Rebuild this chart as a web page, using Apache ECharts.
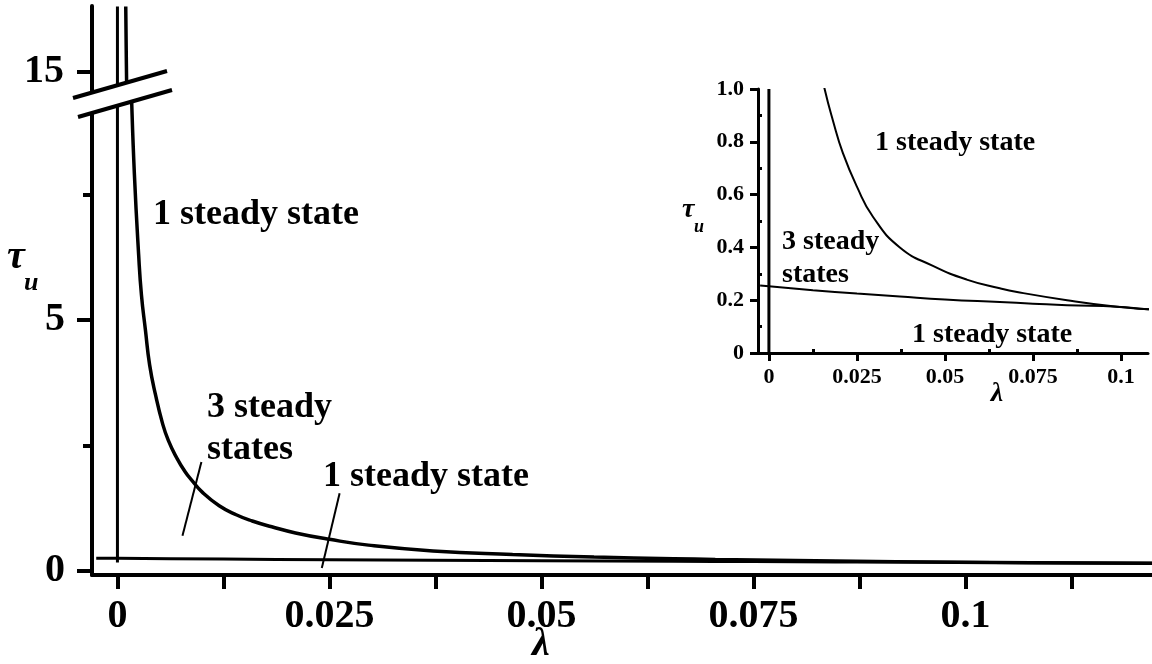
<!DOCTYPE html>
<html>
<head>
<meta charset="utf-8">
<script src="https://cdn.jsdelivr.net/npm/echarts@6/dist/echarts.min.js"></script>
<style>
  html, body { margin: 0; padding: 0; background: #fff; overflow: hidden; }
  #chart { width: 1152px; height: 664px; }
</style>
</head>
<body>
<div id="chart"></div>
<script>
// Boundary between regions with 1 and 3 steady states, tau_u versus lambda
const LAMBDA_UPPER = [0.00098, 0.00103, 0.00108, 0.00115, 0.0013, 0.0015, 0.00165, 0.002, 0.0025, 0.00283,
  0.0033, 0.0038, 0.0045, 0.0053, 0.006, 0.007, 0.008, 0.0088, 0.010, 0.012, 0.014, 0.0159, 0.0182,
  0.021, 0.025, 0.0296, 0.0372, 0.0466, 0.0562, 0.0656, 0.0705, 0.0847, 0.0989, 0.1077, 0.122];
const TAU_UPPER = [16.3, 15.5, 14.8, 13.8, 12.2, 10.5, 9.5, 7.9, 6.3, 5.5,
  4.8, 4.1, 3.5, 2.95, 2.6, 2.25, 1.97, 1.8, 1.57, 1.3, 1.12, 0.996, 0.88,
  0.758, 0.63, 0.515, 0.40, 0.33, 0.278, 0.245, 0.231, 0.20, 0.175, 0.166, 0.156];

const LAMBDA_LOWER = [-0.0025, 0, 0.0125, 0.025, 0.0372, 0.05, 0.0656, 0.075, 0.0847, 0.0989, 0.1077, 0.122];
const TAU_LOWER = [0.256, 0.253, 0.238, 0.225, 0.214, 0.203, 0.193, 0.187, 0.181, 0.175, 0.166, 0.156];

// vertical line at lambda = 0
const ZERO_LINE_MAIN = [[0, 0.17], [0, 16.3]];
const ZERO_LINE_INSET = [[0, 0], [0, 1.0]];

// leader lines from the region labels
const LEADER_A = [[0.00767, 0.70], [0.0099, 2.17]];
const LEADER_B = [[0.0241, 0.06], [0.0262, 1.55]];

// tick values and labels
const MAIN_X_LABELS = [0, 0.025, 0.05, 0.075, 0.1];
const MAIN_X_TICKS = [0, 0.0125, 0.025, 0.0375, 0.05, 0.0625, 0.075, 0.0875, 0.1, 0.1125];
const MAIN_Y_MAJOR = [0, 5];
const MAIN_Y_MINOR = [2.5, 7.5];
const MAIN_Y_TOP = [15];
const INSET_X_MAJOR = [0, 0.025, 0.05, 0.075, 0.1];
const INSET_X_MINOR = [0.0125, 0.0375, 0.0625, 0.0875];
const INSET_Y_MAJOR = [0, 0.2, 0.4, 0.6, 0.8, 1.0];
const INSET_Y_MINOR = [0.1, 0.3, 0.5, 0.7, 0.9];

const SERIF = '"Liberation Serif", "Times New Roman", serif';

const upperCurve = LAMBDA_UPPER.map((x, i) => [x, TAU_UPPER[i]]);
const lowerCurve = LAMBDA_LOWER.map((x, i) => [x, TAU_LOWER[i]]);

function fmtX(v) {
  const r = Math.round(v * 10000) / 10000;
  return r === 0 ? '0' : String(r);
}
function fmtInsetY(v) {
  const r = Math.round(v * 10) / 10;
  if (r === 0) return '0';
  return r.toFixed(1);
}

const black = '#000';

function curveSeries(data, xi, yi, width) {
  return {
    type: 'line', data: data, xAxisIndex: xi, yAxisIndex: yi,
    symbol: 'none', smooth: 0.5,
    lineStyle: { color: black, width: width }, silent: true, animation: false, clip: true
  };
}
function straight(data, xi, yi, width) {
  return {
    type: 'line', data: data, xAxisIndex: xi, yAxisIndex: yi,
    symbol: 'none', lineStyle: { color: black, width: width }, silent: true, animation: false, clip: true
  };
}

const chart = echarts.init(document.getElementById('chart'), null, { renderer: 'canvas' });

const option = {
  backgroundColor: '#fff',
  animation: false,
  grid: [
    { left: 92, top: 98, right: 0, bottom: 89 },     // main, lower part
    { left: 92, top: 6, right: 0, height: 94 },      // main, above the break
    { left: 758, top: 89, width: 390, height: 264 }  // inset
  ],
  xAxis: [
    {
      type: 'value', gridIndex: 0, min: -0.003, max: 0.122, position: 'bottom',
      axisLine: { show: true, onZero: false, lineStyle: { color: black, width: 4 } },
      axisTick: { show: true, customValues: MAIN_X_TICKS, length: 14, lineStyle: { color: black, width: 4 } },
      axisLabel: {
        customValues: MAIN_X_LABELS, formatter: fmtX, margin: 22,
        fontFamily: SERIF, fontWeight: 'bold', fontSize: 40, color: black
      },
      splitLine: { show: false }
    },
    { type: 'value', gridIndex: 1, min: -0.003, max: 0.122, show: false },
    {
      type: 'value', gridIndex: 2, min: -0.0031, max: 0.1077, position: 'bottom',
      axisLine: { show: true, onZero: false, lineStyle: { color: black, width: 3 } },
      axisTick: { show: true, customValues: INSET_X_MAJOR, length: 8, lineStyle: { color: black, width: 3 } },
      axisLabel: {
        customValues: INSET_X_MAJOR, formatter: fmtX, margin: 13,
        fontFamily: SERIF, fontWeight: 'bold', fontSize: 22, color: black
      },
      splitLine: { show: false }
    },
    {
      type: 'value', gridIndex: 2, min: -0.0031, max: 0.1077, position: 'bottom',
      axisLine: { show: false, onZero: false },
      axisTick: { show: true, inside: true, customValues: INSET_X_MINOR, length: 4, lineStyle: { color: black, width: 3 } },
      axisLabel: { show: false }, splitLine: { show: false }
    }
  ],
  yAxis: [
    {
      type: 'value', gridIndex: 0, min: -0.08, max: 9.42, position: 'left',
      axisLine: { show: true, onZero: false, lineStyle: { color: black, width: 4 } },
      axisTick: { show: true, customValues: MAIN_Y_MAJOR, length: 15, lineStyle: { color: black, width: 4 } },
      axisLabel: {
        customValues: MAIN_Y_MAJOR, margin: 27,
        fontFamily: SERIF, fontWeight: 'bold', fontSize: 40, color: black
      },
      splitLine: { show: false }
    },
    {
      type: 'value', gridIndex: 0, min: -0.08, max: 9.42, position: 'left',
      axisLine: { show: false, onZero: false },
      axisTick: { show: true, customValues: MAIN_Y_MINOR, length: 9, lineStyle: { color: black, width: 4 } },
      axisLabel: { show: false }, splitLine: { show: false }
    },
    {
      type: 'value', gridIndex: 1, min: 14.44, max: 16.31, position: 'left',
      axisLine: { show: true, onZero: false, lineStyle: { color: black, width: 4 } },
      axisTick: { show: true, customValues: MAIN_Y_TOP, length: 15, lineStyle: { color: black, width: 4 } },
      axisLabel: {
        customValues: MAIN_Y_TOP, margin: 28,
        fontFamily: SERIF, fontWeight: 'bold', fontSize: 40, color: black
      },
      splitLine: { show: false }
    },
    {
      type: 'value', gridIndex: 2, min: 0, max: 1.0, position: 'left',
      axisLine: { show: true, onZero: false, lineStyle: { color: black, width: 3 } },
      axisTick: { show: true, customValues: INSET_Y_MAJOR, length: 8, lineStyle: { color: black, width: 3 } },
      axisLabel: {
        customValues: INSET_Y_MAJOR, formatter: fmtInsetY, margin: 14,
        fontFamily: SERIF, fontWeight: 'bold', fontSize: 22, color: black
      },
      splitLine: { show: false }
    },
    {
      type: 'value', gridIndex: 2, min: 0, max: 1.0, position: 'left',
      axisLine: { show: false, onZero: false },
      axisTick: { show: true, inside: true, customValues: INSET_Y_MINOR, length: 4, lineStyle: { color: black, width: 3 } },
      axisLabel: { show: false }, splitLine: { show: false }
    }
  ],
  series: [
    // main plot, lower part
    straight(ZERO_LINE_MAIN, 0, 0, 3),
    curveSeries(lowerCurve, 0, 0, 3),
    curveSeries(upperCurve, 0, 0, 3.5),
    straight(LEADER_A, 0, 0, 2),
    straight(LEADER_B, 0, 0, 2),
    // main plot, above the axis break
    straight(ZERO_LINE_MAIN, 1, 2, 3),
    curveSeries(upperCurve, 1, 2, 3.5),
    // inset
    straight(ZERO_LINE_INSET, 2, 3, 3),
    curveSeries(lowerCurve, 2, 3, 2),
    curveSeries(upperCurve, 2, 3, 2)
  ],
  graphic: [
    // axis break marks
    { type: 'polygon', z: 100, shape: { points: [[73, 98], [167, 71], [172, 90], [78, 117]] }, style: { fill: '#fff' } },
    { type: 'line', z: 101, shape: { x1: 73, y1: 98, x2: 167, y2: 71 }, style: { stroke: black, lineWidth: 4 } },
    { type: 'line', z: 101, shape: { x1: 78, y1: 117, x2: 172, y2: 90 }, style: { stroke: black, lineWidth: 4 } },

    // main region labels
    { type: 'text', z: 50, style: { text: '1 steady state', x: 153, y: 215, verticalAlign: 'middle', font: 'bold 36px ' + SERIF, fill: black } },
    { type: 'text', z: 50, style: { text: '3 steady', x: 207, y: 408, verticalAlign: 'middle', font: 'bold 36px ' + SERIF, fill: black } },
    { type: 'text', z: 50, style: { text: 'states', x: 207, y: 450, verticalAlign: 'middle', font: 'bold 36px ' + SERIF, fill: black } },
    { type: 'text', z: 50, style: { text: '1 steady state', x: 323, y: 477, verticalAlign: 'middle', font: 'bold 36px ' + SERIF, fill: black } },

    // main axis titles
    { type: 'text', z: 50, style: { text: 'τ', x: 7, y: 258, verticalAlign: 'middle', font: 'italic bold 40px ' + SERIF, fill: black } },
    { type: 'text', z: 50, style: { text: 'u', x: 24, y: 283, verticalAlign: 'middle', font: 'italic bold 26px ' + SERIF, fill: black } },
    { type: 'text', z: 50, style: { text: 'λ', x: 541, y: 645, align: 'center', verticalAlign: 'middle', font: 'italic bold 40px ' + SERIF, fill: black } },

    // inset region labels
    { type: 'text', z: 50, style: { text: '1 steady state', x: 875, y: 143, verticalAlign: 'middle', font: 'bold 28px ' + SERIF, fill: black } },
    { type: 'text', z: 50, style: { text: '3 steady', x: 782, y: 242, verticalAlign: 'middle', font: 'bold 28px ' + SERIF, fill: black } },
    { type: 'text', z: 50, style: { text: 'states', x: 782, y: 275, verticalAlign: 'middle', font: 'bold 28px ' + SERIF, fill: black } },
    { type: 'text', z: 50, style: { text: '1 steady state', x: 912, y: 335, verticalAlign: 'middle', font: 'bold 28px ' + SERIF, fill: black } },

    // inset axis titles
    { type: 'text', z: 50, style: { text: 'τ', x: 682, y: 210, verticalAlign: 'middle', font: 'italic bold 28px ' + SERIF, fill: black } },
    { type: 'text', z: 50, style: { text: 'u', x: 694, y: 227, verticalAlign: 'middle', font: 'italic bold 18px ' + SERIF, fill: black } },
    { type: 'text', z: 50, style: { text: 'λ', x: 997, y: 394, align: 'center', verticalAlign: 'middle', font: 'italic bold 28px ' + SERIF, fill: black } }
  ]
};

chart.setOption(option);
</script>
</body>
</html>
